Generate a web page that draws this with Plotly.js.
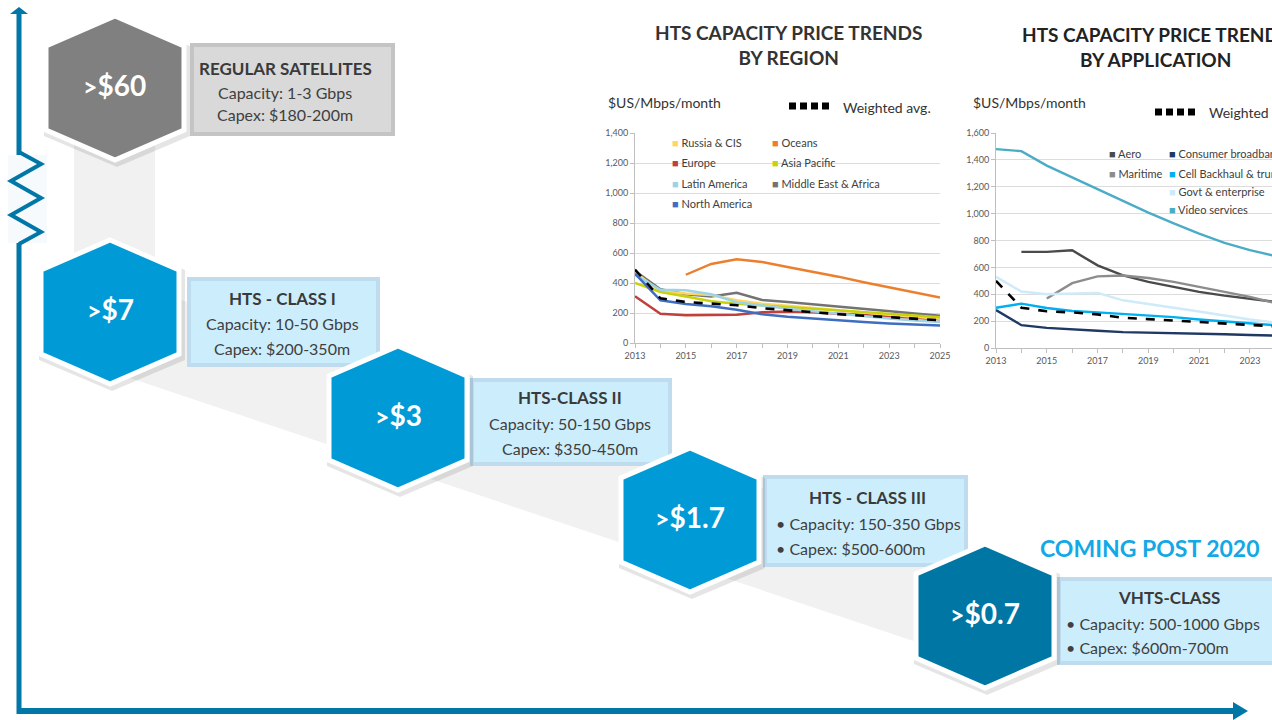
<!DOCTYPE html>
<html>
<head>
<meta charset="utf-8">
<script src="https://cdn.plot.ly/plotly-3.0.1.min.js"></script>
<style>html,body{margin:0;padding:0;background:#fff;}#chart{width:1272px;height:720px;}</style>
</head>
<body>
<div id="chart"></div>
<script>
// ---------------- DATA ----------------
const years = [2013, 2014, 2015, 2016, 2017, 2018, 2019, 2020, 2021, 2022, 2023, 2024, 2025];

// Chart 1: HTS capacity price trends by region ($US/Mbps/month)
const regionNames = ['Russia & CIS', 'Oceans', 'Europe', 'Asia Pacific', 'Latin America', 'Middle East & Africa', 'North America'];
const russiaCIS        = [470, 345, 330, 320, 285, 262, 248, 232, 218, 203, 188, 175, 162];
const oceans           = [null, null, 455, 527, 558, 540, 507, 475, 442, 405, 370, 335, 303];
const europe           = [312, 195, 185, 185, 188, 205, 210, 205, 195, 185, 175, 165, 158];
const asiaPacific      = [400, 340, 310, 278, 262, 248, 238, 228, 218, 207, 195, 183, 172];
const latinAmerica     = [455, 355, 352, 325, 272, 248, 228, 212, 195, 178, 163, 150, 140];
const middleEastAfrica = [480, 358, 325, 310, 335, 287, 273, 258, 242, 228, 212, 197, 182];
const northAmerica     = [462, 285, 260, 245, 222, 192, 175, 162, 150, 140, 130, 123, 117];
const weightedAvgRegion= [490, 298, 273, 265, 252, 232, 218, 207, 192, 182, 172, 162, 152];

// Chart 2: HTS capacity price trends by application ($US/Mbps/month)
const appNames = ['Aero', 'Consumer broadband', 'Maritime', 'Cell Backhaul & trunking', 'Govt & enterprise', 'Video services'];
const aero              = [null, 715, 715, 727, 615, 540, 492, 455, 418, 390, 365, 340, 320];
const consumerBroadband = [282, 170, 150, 137, 128, 118, 115, 112, 107, 102, 97, 92, 88];
const maritime          = [null, null, 368, 483, 533, 540, 521, 492, 455, 417, 380, 335, 300];
const cellBackhaul      = [300, 330, 298, 275, 265, 255, 245, 230, 212, 196, 180, 165, 155];
const govtEnterprise    = [530, 420, 400, 405, 410, 355, 330, 300, 272, 242, 212, 190, 170];
const videoServices     = [1480, 1465, 1357, 1270, 1180, 1094, 1007, 927, 852, 783, 728, 685, 640];
const weightedAvgApp    = [500, 300, 273, 265, 250, 225, 215, 205, 190, 180, 170, 160, 150];

// Tiers
const tierPrices   = ['>$60', '>$7', '>$3', '>$1.7', '>$0.7'];
const tierNames    = ['REGULAR SATELLITES', 'HTS - CLASS I', 'HTS-CLASS II', 'HTS - CLASS III', 'VHTS-CLASS'];
const tierCapacity = ['Capacity: 1-3 Gbps', 'Capacity: 10-50 Gbps', 'Capacity: 50-150 Gbps', '• Capacity: 150-350 Gbps', '• Capacity: 500-1000 Gbps'];
const tierCapex    = ['Capex: $180-200m', 'Capex: $200-350m', 'Capex: $350-450m', '• Capex: $500-600m', '• Capex: $600m-700m'];

const chartTitles = ['HTS CAPACITY PRICE TRENDS<br>BY REGION', 'HTS CAPACITY PRICE TRENDS<br>BY APPLICATION'];
const unitLabel = '$US/Mbps/month';
const weightedLabel = 'Weighted avg.';
const comingLabel = 'COMING POST 2020';

// ---------------- LAYOUT HELPERS ----------------
const W = 1272, H = 720;
const X = v => v / W;
const Y = v => 1 - v / H;
const FONT = 'Lato, "Open Sans", sans-serif';
const AX = '#0077A6';

function hexPath(cx, cy, hw, hh, sh) {
  const pts = [[cx, cy - hh], [cx + hw, cy - sh], [cx + hw, cy + sh], [cx, cy + hh], [cx - hw, cy + sh], [cx - hw, cy - sh]];
  return 'M' + pts.map(p => X(p[0]).toFixed(5) + ',' + Y(p[1]).toFixed(5)).join('L') + 'Z';
}
function polyPath(pts, close) {
  return 'M' + pts.map(p => X(p[0]).toFixed(5) + ',' + Y(p[1]).toFixed(5)).join('L') + (close ? 'Z' : '');
}

const shapes = [];
const annotations = [];

// grey path band behind hexagons
shapes.push({type: 'path', xref: 'paper', yref: 'paper', layer: 'below',
  path: polyPath([[150, 290], [985, 560], [985, 665], [112, 372], [112, 300]], true),
  fillcolor: '#F1F1F1', line: {width: 0}});
shapes.push({type: 'rect', xref: 'paper', yref: 'paper', layer: 'below',
  x0: X(74), x1: X(155), y0: Y(260), y1: Y(140), fillcolor: '#F1F1F1', line: {width: 0}});

// boxes
const boxRects = [[190, 43, 395, 136], [187, 277, 380, 367], [470, 378, 672, 466], [763, 475, 968, 567], [1057, 577, 1290, 665]];
const boxFill = ['#D9D9D9', '#CCEEFC', '#CCEEFC', '#CCEEFC', '#CCEEFC'];
const boxLine = ['#C4C4C4', '#BEDCEE', '#BEDCEE', '#BEDCEE', '#BEDCEE'];
boxRects.forEach((b, i) => {
  shapes.push({type: 'rect', xref: 'paper', yref: 'paper', layer: 'above',
    x0: X(b[0] + 2), x1: X(b[2] - 2), y0: Y(b[3] - 2), y1: Y(b[1] + 2),
    fillcolor: boxFill[i], line: {color: boxLine[i], width: 4}});
});

// hexagons
const hexCenters = [[115, 88], [110, 312], [398, 418], [690, 520], [985, 616]];
const hexFill = ['#808080', '#009BD7', '#009BD7', '#009BD7', '#0076A4'];
hexCenters.forEach((c, i) => {
  shapes.push({type: 'path', xref: 'paper', yref: 'paper', layer: 'above',
    path: hexPath(c[0] + 2, c[1] + 3, 73, 76, 45), fillcolor: 'rgba(0,0,0,0.10)', line: {width: 0}});
  shapes.push({type: 'path', xref: 'paper', yref: 'paper', layer: 'above',
    path: hexPath(c[0], c[1], 69, 72, 42), fillcolor: hexFill[i], line: {color: '#FFFFFF', width: 5}});
  const p = tierPrices[i];
  annotations.push({xref: 'paper', yref: 'paper', x: X(c[0]), y: Y(c[1] - 3), xanchor: 'center', yanchor: 'middle',
    showarrow: false, text: '<b><span style="font-size:25px">&gt;</span>' + p.slice(1) + '</b>',
    font: {family: FONT, size: 28, color: '#FFFFFF'}});
});

// box texts
const textRows = [[68, 92, 115], [298, 323, 348], [397, 423, 448], [497, 523, 548], [597, 623, 647]];
const titleX = [285, 282, 570, 867, 1169];
const lineX = [285, 282, 570, 774, 1064];
const lineAnchor = ['center', 'center', 'center', 'left', 'left'];
tierNames.forEach((n, i) => {
  annotations.push({xref: 'paper', yref: 'paper', x: X(titleX[i]), y: Y(textRows[i][0]), xanchor: 'center', yanchor: 'middle',
    showarrow: false, text: '<b>' + n + '</b>', font: {family: FONT, size: 17, color: '#3A3A3A'}});
  annotations.push({xref: 'paper', yref: 'paper', x: X(lineX[i]), y: Y(textRows[i][1]), xanchor: lineAnchor[i], yanchor: 'middle',
    showarrow: false, text: tierCapacity[i], font: {family: FONT, size: 16, color: '#404040'}});
  annotations.push({xref: 'paper', yref: 'paper', x: X(lineX[i]), y: Y(textRows[i][2]), xanchor: lineAnchor[i], yanchor: 'middle',
    showarrow: false, text: tierCapex[i], font: {family: FONT, size: 16, color: '#404040'}});
});

annotations.push({xref: 'paper', yref: 'paper', x: X(1150), y: Y(548), xanchor: 'center', yanchor: 'middle',
  showarrow: false, text: '<b>' + comingLabel + '</b>', font: {family: FONT, size: 23, color: '#12A9E6'}});

// axes of the infographic
shapes.push({type: 'line', xref: 'paper', yref: 'paper', layer: 'above', x0: X(19), x1: X(19), y0: Y(714), y1: Y(12), line: {color: AX, width: 5}});
shapes.push({type: 'path', xref: 'paper', yref: 'paper', layer: 'above', path: polyPath([[10, 14], [28, 14], [19, 7]], true), fillcolor: AX, line: {width: 0}});
shapes.push({type: 'rect', xref: 'paper', yref: 'paper', layer: 'above', x0: X(8), x1: X(47), y0: Y(243), y1: Y(155), fillcolor: '#F6FAFD', line: {width: 0}});
shapes.push({type: 'path', xref: 'paper', yref: 'paper', layer: 'above',
  path: polyPath([[19, 152], [41, 164], [11, 181], [41, 198], [11, 215], [41, 232], [19, 244]], false),
  line: {color: AX, width: 4}});
shapes.push({type: 'line', xref: 'paper', yref: 'paper', layer: 'above', x0: X(17), x1: X(1236), y0: Y(711), y1: Y(711), line: {color: AX, width: 6}});
shapes.push({type: 'path', xref: 'paper', yref: 'paper', layer: 'above', path: polyPath([[1233, 702], [1248, 711], [1233, 720]], true), fillcolor: AX, line: {width: 0}});

// chart titles and unit labels
annotations.push({xref: 'paper', yref: 'paper', x: X(788), y: Y(45), xanchor: 'center', yanchor: 'middle', showarrow: false,
  text: '<b>' + chartTitles[0] + '</b>', font: {family: FONT, size: 19, color: '#333333'}});
annotations.push({xref: 'paper', yref: 'paper', x: X(1155), y: Y(47), xanchor: 'center', yanchor: 'middle', showarrow: false,
  text: '<b>' + chartTitles[1] + '</b>', font: {family: FONT, size: 19, color: '#222222'}});
annotations.push({xref: 'paper', yref: 'paper', x: X(606), y: Y(103), xanchor: 'left', yanchor: 'middle', showarrow: false,
  text: unitLabel, font: {family: FONT, size: 14, color: '#333333'}});
annotations.push({xref: 'paper', yref: 'paper', x: X(971), y: Y(103), xanchor: 'left', yanchor: 'middle', showarrow: false,
  text: unitLabel, font: {family: FONT, size: 14, color: '#333333'}});
annotations.push({xref: 'paper', yref: 'paper', x: X(841), y: Y(107), xanchor: 'left', yanchor: 'middle', showarrow: false,
  text: weightedLabel, font: {family: FONT, size: 14, color: '#333333'}});
annotations.push({xref: 'paper', yref: 'paper', x: X(1207), y: Y(112), xanchor: 'left', yanchor: 'middle', showarrow: false,
  text: weightedLabel, font: {family: FONT, size: 14, color: '#333333'}});
shapes.push({type: 'line', xref: 'paper', yref: 'paper', layer: 'above', x0: X(789), x1: X(829), y0: Y(106), y1: Y(106), line: {color: '#000', width: 7, dash: '7px,4px'}});
shapes.push({type: 'line', xref: 'paper', yref: 'paper', layer: 'above', x0: X(1155), x1: X(1195), y0: Y(112), y1: Y(112), line: {color: '#000', width: 7, dash: '7px,4px'}});

// ---------------- TRACES ----------------
const regionSeries = [russiaCIS, oceans, europe, asiaPacific, latinAmerica, middleEastAfrica, northAmerica];
const regionColors = ['#FFD666', '#EB7F2D', '#C0403C', '#C8D20A', '#9DD3E6', '#737373', '#3F6EC0'];
const regionOrder = [1, 2, 5, 0, 3, 4, 6];
const traces = [];
regionOrder.forEach(i => {
  traces.push({type: 'scatter', mode: 'lines', x: years, y: regionSeries[i], name: regionNames[i], xaxis: 'x', yaxis: 'y',
    line: {color: regionColors[i], width: 2.4}, connectgaps: false, hoverinfo: 'skip'});
});
traces.push({type: 'scatter', mode: 'lines', x: years, y: weightedAvgRegion, name: weightedLabel, xaxis: 'x', yaxis: 'y',
  line: {color: '#000000', width: 2.6, dash: 'dash'}, hoverinfo: 'skip'});

const appSeries = [aero, consumerBroadband, maritime, cellBackhaul, govtEnterprise, videoServices];
const appColors = ['#4A4A4A', '#1F3864', '#8C8C8C', '#00B0F0', '#CDEBF9', '#4BACC6'];
const appOrder = [5, 0, 2, 4, 3, 1];
appOrder.forEach(i => {
  traces.push({type: 'scatter', mode: 'lines', x: years, y: appSeries[i], name: appNames[i], xaxis: 'x2', yaxis: 'y2',
    line: {color: appColors[i], width: 2.4}, hoverinfo: 'skip'});
});
traces.push({type: 'scatter', mode: 'lines', x: years, y: weightedAvgApp, name: weightedLabel, xaxis: 'x2', yaxis: 'y2',
  line: {color: '#000000', width: 2.6, dash: 'dash'}, hoverinfo: 'skip'});

// in-chart legends
const regionLegendX = [670, 770];
const regionLegendY = [143, 163, 183, 203];
regionNames.forEach((n, i) => {
  annotations.push({xref: 'paper', yref: 'paper', x: X(regionLegendX[i % 2]), y: Y(regionLegendY[Math.floor(i / 2)]),
    xanchor: 'left', yanchor: 'middle', showarrow: false,
    text: '<span style="color:' + regionColors[i] + '">■</span> ' + n.replace('&', '&amp;'),
    font: {family: FONT, size: 11, color: '#404040'}});
});
const appLegendPos = [[1107, 153], [1167, 153], [1107, 173], [1167, 173], [1167, 192], [1167, 209]];
appNames.forEach((n, i) => {
  annotations.push({xref: 'paper', yref: 'paper', x: X(appLegendPos[i][0]), y: Y(appLegendPos[i][1]),
    xanchor: 'left', yanchor: 'middle', showarrow: false,
    text: '<span style="color:' + appColors[i] + '">■</span> ' + n.replace('&', '&amp;'),
    font: {family: FONT, size: 11, color: '#404040'}});
});

const tickYears = [2013, 2015, 2017, 2019, 2021, 2023, 2025];
const axBase = {showline: true, linecolor: '#BFBFBF', linewidth: 1, ticks: 'outside', ticklen: 4, tickcolor: '#BFBFBF',
  tickfont: {family: FONT, size: 9, color: '#595959'}, zeroline: false, fixedrange: true};

const layout = {
  width: W, height: H,
  margin: {l: 0, r: 0, t: 0, b: 0},
  paper_bgcolor: '#FFFFFF', plot_bgcolor: 'rgba(0,0,0,0)',
  showlegend: false,
  xaxis: Object.assign({}, axBase, {domain: [X(635), X(940)], range: [2013, 2025], tickvals: tickYears, showgrid: false, anchor: 'y',
    minor: {dtick: 1, ticks: 'outside', ticklen: 4, tickcolor: '#BFBFBF', showgrid: false}}),
  yaxis: Object.assign({}, axBase, {domain: [Y(343), Y(133)], range: [0, 1400], dtick: 200, tickformat: ',d', showgrid: true,
    gridcolor: '#DCDCDC', anchor: 'x'}),
  xaxis2: Object.assign({}, axBase, {domain: [X(996), 1], range: [2013, 2023.87], tickvals: tickYears, showgrid: false, anchor: 'y2',
    minor: {dtick: 1, ticks: 'outside', ticklen: 4, tickcolor: '#BFBFBF', showgrid: false}}),
  yaxis2: Object.assign({}, axBase, {domain: [Y(348), Y(133)], range: [0, 1600], dtick: 200, tickformat: ',d', showgrid: true,
    gridcolor: '#DCDCDC', anchor: 'x2'}),
  shapes: shapes,
  annotations: annotations
};

Plotly.newPlot('chart', traces, layout, {displayModeBar: false, staticPlot: true});
</script>
</body>
</html>
